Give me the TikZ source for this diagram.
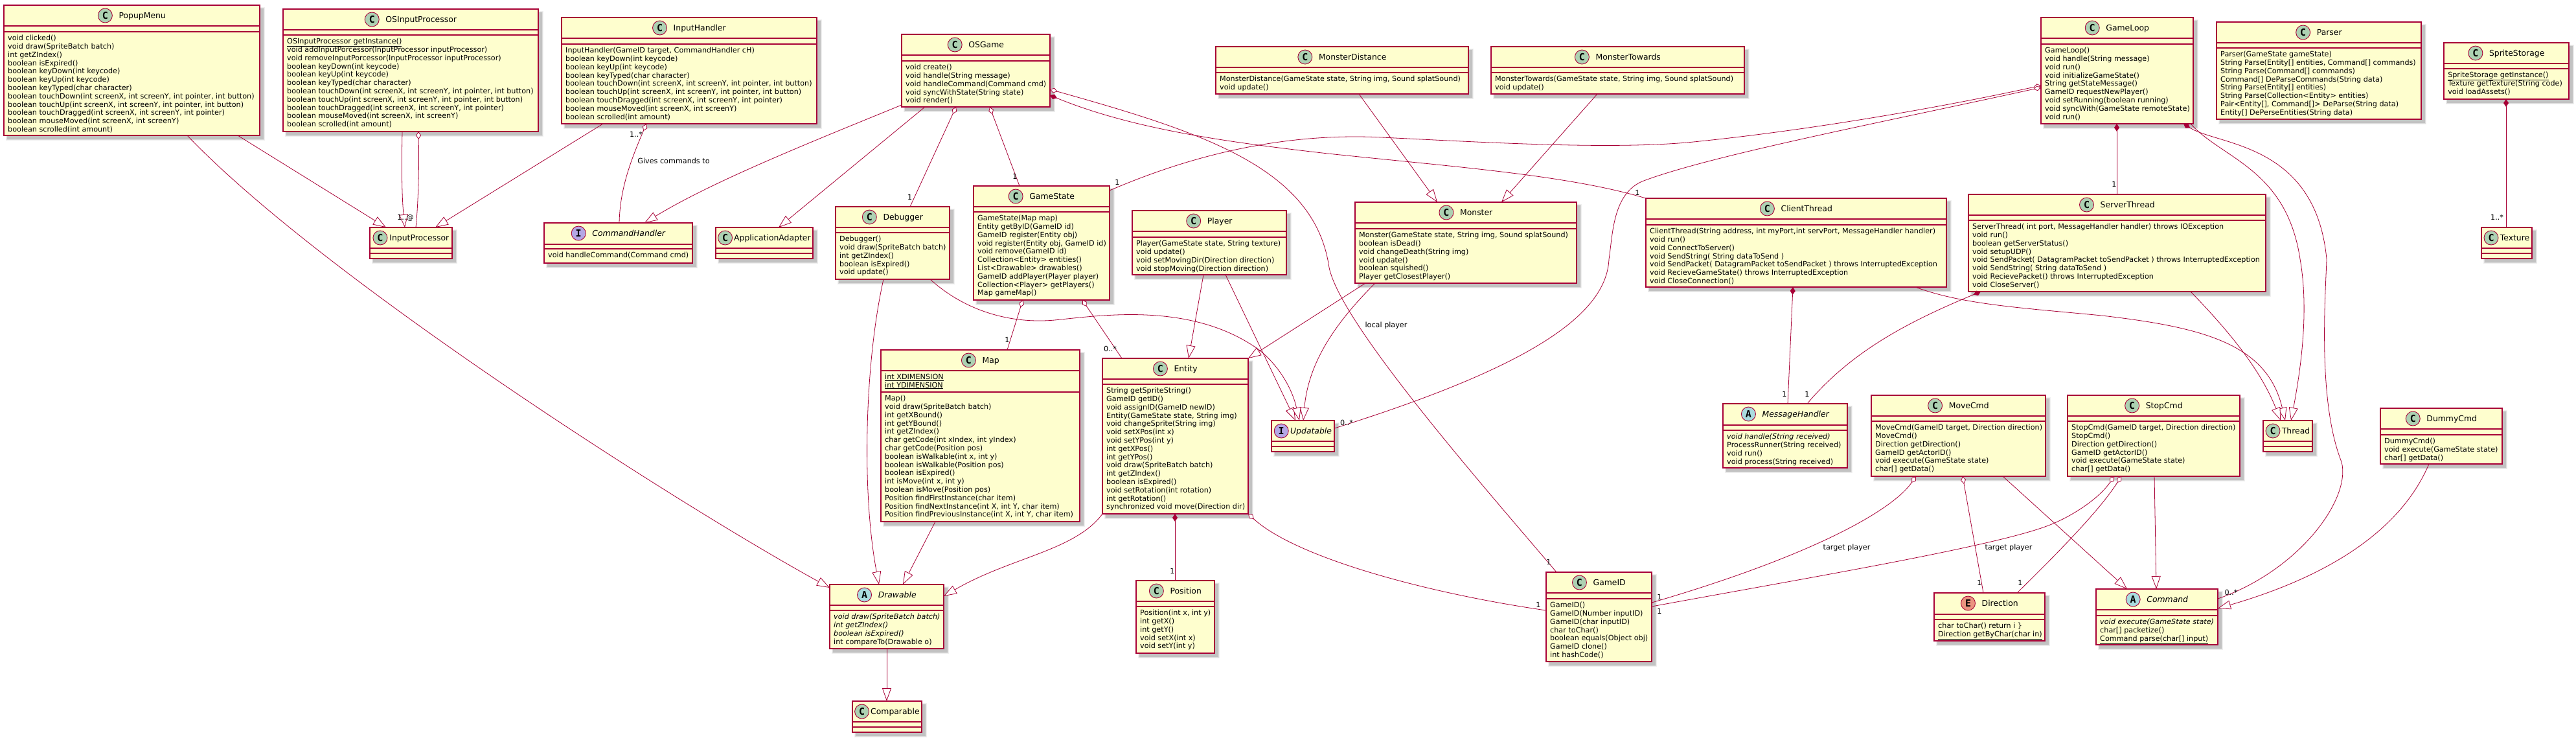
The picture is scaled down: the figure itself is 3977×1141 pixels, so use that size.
\documentclass[tikz,border=0pt]{standalone}
\usepackage{fontspec}
\setmainfont{DejaVu Sans}
\newfontfamily\circlefont{DejaVu Sans Mono}
\usetikzlibrary{arrows.meta}
\definecolor{umlred}{HTML}{A80036}
\definecolor{umlfill}{HTML}{FEFECE}
\definecolor{cclass}{HTML}{ADD1B2}
\definecolor{cabs}{HTML}{A9DCDF}
\definecolor{ciface}{HTML}{B4A7E5}
\definecolor{cenum}{HTML}{EB937F}
\newcommand\memberfont{\fontsize{11.2}{12.8}\selectfont\lineskiplimit=-30pt\relax}
\newcommand\titlefont{\fontsize{12.4}{14}\selectfont}
\newcommand\setkindC{\def\Ul{C}\def\Uc{cclass}\def\Uf{}}
\newcommand\setkindA{\def\Ul{A}\def\Uc{cabs}\def\Uf{\itshape}}
\newcommand\setkindI{\def\Ul{I}\def\Uc{ciface}\def\Uf{\itshape}}
\newcommand\setkindE{\def\Ul{E}\def\Uc{cenum}\def\Uf{}}
\newlength\Utw
\newcommand\umlbox[8]{\def\Un{#1}\def\UxA{#2}\def\UyA{#3}\def\UxB{#4}\def\UyB{#5}\def\Uh{#6}\def\Ua{#7}\csname setkind#8\endcsname}
\newcommand\umlbody[3]{%
  \pgfinterruptpicture\setbox0=\hbox{\normalfont\titlefont\Uf #1}\global\Utw=\wd0 \endpgfinterruptpicture
  \pgfmathsetmacro\Utwn{\Utw}%
  \pgfmathsetmacro\UW{\UxB-\UxA}%
  \pgfmathsetmacro\UH{\UyB-\UyA}%
  \pgfmathsetmacro\Udiff{\UW-22-\Utwn}%
  \pgfmathsetmacro\Ugap{min(\Udiff/4,10)}%
  \pgfmathsetmacro\Ucx{\UxA+(\Udiff-\Ugap)/2+11}%
  \pgfmathsetmacro\Utx{\Ucx+11+\Ugap}%
  \fill[black,opacity=.06] (\UxA+3,\UyA+3) rectangle (\UxB+7.5,\UyB+7.5);
  \fill[black,opacity=.08] (\UxA+4,\UyA+4) rectangle (\UxB+6.5,\UyB+6.5);
  \fill[black,opacity=.12] (\UxA+5,\UyA+5) rectangle (\UxB+5.5,\UyB+5.5);
  \node[classbox,minimum width=\UW pt,minimum height=\UH pt] (\Un) at ({(\UxA+\UxB)/2},{(\UyA+\UyB)/2}) {};
  \draw[classsep] (\UxA,\Uh) -- (\UxB,\Uh);
  \draw[classsep] (\UxA,\Ua) -- (\UxB,\Ua);
  \node[spot,fill=\Uc] (\Un-c) at (\Ucx,\UyA+16) {\circlefont\bfseries\fontsize{15}{15}\selectfont\Ul};
  \node[titletext] (\Un-t) at (\Utx,\UyA+20.5) {\Uf #1};
  \if\relax\detokenize{#2}\relax\else
  \node[membertext] (\Un-a) at (\UxA+6,\Uh+4) {\rule{0pt}{9pt}#2};
  \fi
  \if\relax\detokenize{#3}\relax\else
  \node[membertext] (\Un-m) at (\UxA+6,\Ua+4.5) {\rule{0pt}{9pt}#3};
  \fi
}
\tikzset{
  classbox/.style={draw=umlred,fill=umlfill,line width=1.3pt,inner sep=0pt,outer sep=0pt},
  classsep/.style={draw=umlred,line width=1.3pt},
  spot/.style={circle,draw=umlred,line width=.9pt,minimum size=22pt,inner sep=0pt},
  titletext/.style={anchor=base west,inner sep=0pt,font=\titlefont},
  membertext/.style={anchor=north west,inner sep=0pt,align=left,font=\memberfont},
  lab/.style={inner sep=0pt,font=\memberfont},
  relline/.style={draw=umlred,line width=.8pt},
  extline/.style={relline,-{Triangle[open,fill=white,length=20pt,width=14pt]}},
  aggline/.style={relline,{Diamond[open,fill=white,length=12pt,width=8pt]}-},
  compline/.style={relline,{Diamond[fill=umlred,length=12pt,width=8pt]}-}
}
\begin{document}
\begin{tikzpicture}[x=1pt,y=-1pt]
\useasboundingbox (0,0) rectangle (3977,1141);
\fill[white] (0,0) rectangle (3977,1141);

\umlbox{popup}{6}{8}{401}{209}{40}{49}{C}
\umlbody{PopupMenu}{}{void clicked()\\void draw(SpriteBatch batch)\\int getZIndex()\\boolean isExpired()\\boolean keyDown(int keycode)\\boolean keyUp(int keycode)\\boolean keyTyped(char character)\\boolean touchDown(int screenX, int screenY, int pointer, int button)\\boolean touchUp(int screenX, int screenY, int pointer, int button)\\boolean touchDragged(int screenX, int screenY, int pointer)\\boolean mouseMoved(int screenX, int screenY)\\boolean scrolled(int amount)}

\umlbox{osinput}{437}{14}{831}{203}{46}{54}{C}
\umlbody{OSInputProcessor}{}{\underline{OSInputProcessor getInstance()}\\void addInputPorcessor(InputProcessor inputProcessor)\\void removeInputPorcessor(InputProcessor inputProcessor)\\boolean keyDown(int keycode)\\boolean keyUp(int keycode)\\boolean keyTyped(char character)\\boolean touchDown(int screenX, int screenY, int pointer, int button)\\boolean touchUp(int screenX, int screenY, int pointer, int button)\\boolean touchDragged(int screenX, int screenY, int pointer)\\boolean mouseMoved(int screenX, int screenY)\\boolean scrolled(int amount)}

\umlbox{inputproc}{571}{351}{698}{399}{383}{391}{C}
\umlbody{InputProcessor}{}{}

\umlbox{inputhandler}{867}{27}{1261}{191}{59}{68}{C}
\umlbody{InputHandler}{}{InputHandler(GameID target, CommandHandler cH)\\boolean keyDown(int keycode)\\boolean keyUp(int keycode)\\boolean keyTyped(char character)\\boolean touchDown(int screenX, int screenY, int pointer, int button)\\boolean touchUp(int screenX, int screenY, int pointer, int button)\\boolean touchDragged(int screenX, int screenY, int pointer)\\boolean mouseMoved(int screenX, int screenY)\\boolean scrolled(int amount)}

\umlbox{cmdhandler}{840}{344}{1069}{406}{377}{384}{I}
\umlbody{CommandHandler}{}{void handleCommand(Command cmd)}

\umlbox{appadapter}{1105}{351}{1255}{399}{383}{391}{C}
\umlbody{ApplicationAdapter}{}{}

\umlbox{osgame}{1392}{53}{1621}{165}{85}{94}{C}
\umlbody{OSGame}{}{void create()\\void handle(String message)\\void handleCommand(Command cmd)\\void syncWithState(String state)\\void render()}

\umlbox{debugger}{1290}{319}{1466}{431}{351}{359}{C}
\umlbody{Debugger}{}{Debugger()\\void draw(SpriteBatch batch)\\int getZIndex()\\boolean isExpired()\\void update()}

\umlbox{gamestate}{1503}{287}{1713}{463}{319}{327}{C}
\umlbody{GameState}{}{GameState(Map map)\\Entity getByID(GameID id)\\GameID register(Entity obj)\\void register(Entity obj, GameID id)\\void remove(GameID id)\\Collection<Entity> entities()\\List<Drawable> drawables()\\GameID addPlayer(Player player)\\Collection<Player> getPlayers()\\Map gameMap()}

\umlbox{player}{1748}{325}{1986}{424}{357}{366}{C}
\umlbody{Player}{}{Player(GameState state, String texture)\\void update()\\void setMovingDir(Direction direction)\\void stopMoving(Direction direction)}

\umlbox{map}{1360}{540}{1667}{805}{572}{605}{C}
\umlbody{Map}{\underline{int XDIMENSION}\\\underline{int YDIMENSION}}{Map()\\void draw(SpriteBatch batch)\\int getXBound()\\int getYBound()\\int getZIndex()\\char getCode(int xIndex, int yIndex)\\char getCode(Position pos)\\boolean isWalkable(int x, int y)\\boolean isWalkable(Position pos)\\boolean isExpired()\\int isMove(int x, int y)\\boolean isMove(Position pos)\\Position findFirstInstance(char item)\\Position findNextInstance(int X, int Y, char item)\\Position findPreviousInstance(int X, int Y, char item)}

\umlbox{entity}{1702}{553}{1927}{793}{585}{593}{C}
\umlbody{Entity}{}{String getSpriteString()\\GameID getID()\\void assignID(GameID newID)\\Entity(GameState state, String img)\\void changeSprite(String img)\\void setXPos(int x)\\void setYPos(int y)\\int getXPos()\\int getYPos()\\void draw(SpriteBatch batch)\\int getZIndex()\\boolean isExpired()\\void setRotation(int rotation)\\int getRotation()\\synchronized void move(Direction dir)}

\umlbox{drawable}{1281}{902}{1457}{1001}{934}{942}{A}
\umlbody{Drawable}{}{\textit{void draw(SpriteBatch batch)}\\\textit{int getZIndex()}\\\textit{boolean isExpired()}\\int compareTo(Drawable o)}

\umlbox{comparable}{1316}{1082}{1423}{1130}{1114}{1122}{C}
\umlbody{Comparable}{}{}

\umlbox{position}{1754}{896}{1875}{1008}{928}{936}{C}
\umlbody{Position}{}{Position(int x, int y)\\int getX()\\int getY()\\void setX(int x)\\void setY(int y)}

\umlbox{mdist}{1877}{72}{2267}{145}{104}{112}{C}
\umlbody{MonsterDistance}{}{MonsterDistance(GameState state, String img, Sound splatSound)\\void update()}

\umlbox{mtow}{2302}{72}{2693}{145}{104}{112}{C}
\umlbody{MonsterTowards}{}{MonsterTowards(GameState state, String img, Sound splatSound)\\void update()}

\umlbox{monster}{2092}{312}{2434}{437}{344}{353}{C}
\umlbody{Monster}{}{Monster(GameState state, String img, Sound splatSound)\\boolean isDead()\\void changeDeath(String img)\\void update()\\boolean squished()\\Player getClosestPlayer()}

\umlbox{client}{2541}{306}{3005}{443}{338}{347}{C}
\umlbody{ClientThread}{}{ClientThread(String address, int myPort,int servPort, MessageHandler handler)\\void run()\\void ConnectToServer()\\void SendString( String dataToSend )\\void SendPacket( DatagramPacket toSendPacket ) throws InterruptedException\\void RecieveGameState() throws InterruptedException\\void CloseConnection()}

\umlbox{server}{3039}{300}{3498}{450}{332}{340}{C}
\umlbody{ServerThread}{}{ServerThread( int port, MessageHandler handler) throws IOException\\void run()\\boolean getServerStatus()\\void setupUDP()\\void SendPacket( DatagramPacket toSendPacket ) throws InterruptedException\\void SendString( String dataToSend )\\void RecievePacket() throws InterruptedException\\void CloseServer()}

\umlbox{gameloop}{3151}{27}{3386}{191}{59}{68}{C}
\umlbody{GameLoop}{}{GameLoop()\\void handle(String message)\\void run()\\void initializeGameState()\\String getStateMessage()\\GameID requestNewPlayer()\\void setRunning(boolean running)\\void syncWith(GameState remoteState)\\void run()}

\umlbox{parser}{3422}{34}{3738}{184}{66}{74}{C}
\umlbody{Parser}{}{Parser(GameState gameState)\\String Parse(Entity[] entities, Command[] commands)\\String Parse(Command[] commands)\\Command[] DeParseCommands(String data)\\String Parse(Entity[] entities)\\String Parse(Collection<Entity> entities)\\Pair<Entity[], Command[]> DeParse(String data)\\Entity[] DePerseEntities(String data)}

\umlbox{sprite}{3773}{66}{3966}{153}{98}{106}{C}
\umlbody{SpriteStorage}{}{\underline{SpriteStorage getInstance()}\\Texture getTexture(String code)\\void loadAssets()}

\umlbox{texture}{3831}{351}{3909}{399}{383}{391}{C}
\umlbody{Texture}{}{}

\umlbox{updatable}{1963}{649}{2060}{697}{681}{689}{I}
\umlbody{Updatable}{}{}

\umlbox{msghandler}{2660}{623}{2852}{722}{656}{664}{A}
\umlbody{MessageHandler}{}{\textit{void handle(String received)}\\ProcessRunner(String received)\\void run()\\void process(String received)}

\umlbox{movecmd}{2889}{610}{3158}{735}{642}{650}{C}
\umlbody{MoveCmd}{}{MoveCmd(GameID target, Direction direction)\\MoveCmd()\\Direction getDirection()\\GameID getActorID()\\void execute(GameState state)\\char[] getData()}

\umlbox{stopcmd}{3192}{610}{3458}{735}{642}{650}{C}
\umlbody{StopCmd}{}{StopCmd(GameID target, Direction direction)\\StopCmd()\\Direction getDirection()\\GameID getActorID()\\void execute(GameState state)\\char[] getData()}

\umlbox{thread}{3494}{649}{3570}{697}{681}{689}{C}
\umlbody{Thread}{}{}

\umlbox{dummy}{3675}{630}{3863}{716}{662}{671}{C}
\umlbody{DummyCmd}{}{DummyCmd()\\void execute(GameState state)\\char[] getData()}

\umlbox{gameid}{2387}{883}{2550}{1021}{915}{924}{C}
\umlbody{GameID}{}{GameID()\\GameID(Number inputID)\\GameID(char inputID)\\char toChar()\\boolean equals(Object obj)\\GameID clone()\\int hashCode()}

\umlbox{direction}{2986}{915}{3157}{989}{948}{956}{E}
\umlbody{Direction}{}{char toChar() return i \}\\\underline{Direction getByChar(char in)}}

\umlbox{command}{3236}{909}{3424}{995}{941}{950}{A}
\umlbody{Command}{}{\textit{void execute(GameState state)}\\char[] packetize()\\\underline{Command parse(char[] input)}}

% connectors
\draw[extline] ([xshift=283pt]popup.south west) .. controls (500,430) and (1050,780) .. ([yshift=-5pt]drawable.north west);
\draw[extline] ([xshift=361pt]popup.south west) -- ([xshift=25pt]inputproc.north west);
\draw[extline] ([xshift=184pt]osinput.south west) .. controls (620,250) and (620,300) .. ([xshift=54pt]inputproc.north west);
\draw[aggline] ([xshift=209pt]osinput.south west) .. controls (647,260) and (646,310) .. ([xshift=71pt]inputproc.north west);
\draw[extline] ([xshift=64pt]inputhandler.south west) -- ([xshift=101pt]inputproc.north west);
\draw[aggline] ([xshift=131pt]inputhandler.south west) .. controls (975,245) and (957,290) .. ([xshift=116pt]cmdhandler.north west);
\draw[extline] ([yshift=3pt]osgame.south west) .. controls (1250,220) and (1100,280) .. ([xshift=155pt]cmdhandler.north west);
\draw[extline] ([xshift=36pt]osgame.south west) -- ([xshift=97pt]appadapter.north west);
\draw[aggline] ([xshift=84pt]osgame.south west) -- ([xshift=115pt]debugger.north west);
\draw[aggline] ([xshift=136pt]osgame.south west) -- ([xshift=71pt]gamestate.north west);
\draw[aggline] ([yshift=-85pt]osgame.north east) .. controls (1860,205) and (2030,260) .. (2052,413) .. controls (2070,500) and (2290,750) .. ([xshift=16pt]gameid.north west);
\draw[compline] ([yshift=-94pt]osgame.north east) .. controls (1750,200) and (1900,220) .. (2050,237) .. controls (2250,258) and (2420,270) .. (client.north west);
\draw[aggline] ([yshift=-105pt]gameloop.north west) .. controls (3000,165) and (2800,200) .. (2624,218) .. controls (2500,232) and (2300,220) .. (2133,212) .. controls (1990,205) and (1850,235) .. ([yshift=-7pt]gamestate.north east);
\draw[aggline] ([yshift=-108pt]gameloop.north west) .. controls (2900,190) and (2640,240) .. (2535,280) .. controls (2490,300) and (2490,360) .. (2484,400) .. controls (2480,490) and (2350,570) .. ([yshift=-12pt]updatable.north east);
\draw[compline] ([xshift=117pt]gameloop.south west) -- ([xshift=229pt]server.north west);
\draw[compline] ([xshift=220pt]gameloop.south west) .. controls (3425,225) and (3575,220) .. (3592,400) .. controls (3590,460) and (3578,620) .. (3615,713) .. controls (3630,770) and (3550,880) .. ([yshift=-15pt]command.north east);
\draw[extline] ([xshift=231pt]gameloop.south west) .. controls (3430,245) and (3530,260) .. (3551,400) .. controls (3565,480) and (3552,570) .. ([xshift=43pt]thread.north west);
\draw[compline] ([xshift=96pt]sprite.south west) -- ([xshift=38pt]texture.north west);
\draw[extline] ([xshift=221pt]mdist.south west) -- ([xshift=127pt]monster.north west);
\draw[extline] ([xshift=164pt]mtow.south west) -- ([xshift=226pt]monster.north west);
\draw[extline] ([xshift=31pt]monster.south west) .. controls (2060,500) and (2020,560) .. ([xshift=49pt]updatable.north west);
\draw[extline] ([xshift=16pt]monster.south west) -- (entity.north east);
\draw[extline] ([xshift=110pt]player.south west) -- ([xshift=133pt]entity.north west);
\draw[extline] ([xshift=144pt]player.south west) -- ([xshift=37pt]updatable.north west);
\draw[extline] ([xshift=146pt]debugger.south west) .. controls (1490,480) and (1560,500) .. (1628,494) .. controls (1700,487) and (1840,465) .. (1944,540) .. controls (1975,565) and (1995,600) .. ([xshift=43pt]updatable.north west);
\draw[extline] ([xshift=74pt]debugger.south west) .. controls (1335,560) and (1330,760) .. ([xshift=76pt]drawable.north west);
\draw[extline] ([xshift=84pt]map.south west) -- ([xshift=113pt]drawable.north west);
\draw[extline] (entity.south west) .. controls (1660,850) and (1560,860) .. ([yshift=-18pt]drawable.north east);
\draw[compline] ([xshift=112pt]entity.south west) -- ([xshift=60pt]position.north west);
\draw[aggline] (entity.south east) .. controls (2000,860) and (2200,915) .. ([yshift=-59pt]gameid.north west);
\draw[aggline] ([xshift=76pt]gamestate.south west) -- ([xshift=195pt]map.north west);
\draw[aggline] ([xshift=168pt]gamestate.south west) -- ([xshift=30pt]entity.north west);
\draw[compline] ([xshift=227pt]client.south west) -- ([xshift=100pt]msghandler.north west);
\draw[compline] ([xshift=19pt]server.south west) .. controls (2950,495) and (2860,540) .. ([xshift=130pt]msghandler.north west);
\draw[extline] ([xshift=416pt]client.south west) .. controls (3030,470) and (3120,475) .. (3245,487) .. controls (3400,505) and (3500,530) .. ([xshift=34pt]thread.north west);
\draw[extline] ([xshift=343pt]server.south west) .. controls (3440,510) and (3490,570) .. ([xshift=27pt]thread.north west);
\draw[extline] ([xshift=203pt]movecmd.south west) -- ([xshift=48pt]command.north west);
\draw[aggline] ([xshift=69pt]movecmd.south west) .. controls (2920,790) and (2790,860) .. ([yshift=-47pt]gameid.north east);
\draw[aggline] ([xshift=141pt]movecmd.south west) -- ([xshift=76pt]direction.north west);
\draw[aggline] ([xshift=72pt]stopcmd.south west) .. controls (3240,770) and (3200,795) .. (3172,807) .. controls (3100,840) and (2800,890) .. ([yshift=-53pt]gameid.north east);
\draw[aggline] ([xshift=83pt]stopcmd.south west) .. controls (3240,790) and (3170,860) .. ([xshift=128pt]direction.north west);
\draw[extline] ([xshift=134pt]stopcmd.south west) -- ([xshift=93pt]command.north west);
\draw[extline] ([xshift=75pt]dummy.south west) .. controls (3710,810) and (3610,885) .. ([yshift=-30pt]command.north east);
\draw[extline] ([xshift=88pt]drawable.south west) -- ([xshift=53pt]comparable.north west);

% labels
\node[lab] (la1) at (626,336) {1..@};
\node[lab] (la2) at (982,207) {1..*};
\node[lab] (la3) at (1040,248) {Gives commands to};
\node[lab] (la4) at (1404.6,304) {1};
\node[lab] (la5) at (1567,272) {1};
\node[lab] (la6) at (1725,281) {1};
\node[lab] (la7) at (2528,297) {1};
\node[lab] (la8) at (2140,502) {local player};
\node[lab] (la9) at (2391,867) {1};
\node[lab] (la10) at (3264,284) {1};
\node[lab] (la11) at (3855,335) {1..*};
\node[lab] (la12) at (2079,652) {0..*};
\node[lab] (la13) at (1555,524) {1};
\node[lab] (la14) at (1714,538) {0..*};
\node[lab] (la15) at (1810,881) {1};
\node[lab] (la16) at (2375,933) {1};
\node[lab] (la17) at (2755,608) {1};
\node[lab] (la18) at (2790,608) {1};
\node[lab] (la19) at (3056,899) {1};
\node[lab] (la20) at (3119,899) {1};
\node[lab] (la21) at (2562,921) {1};
\node[lab] (la22) at (2562,943) {1};
\node[lab] (la23) at (2851,845) {target player};
\node[lab] (la24) at (3101,845) {target player};
\node[lab] (la25) at (3444.5,914) {0..*};
\end{tikzpicture}
\end{document}
